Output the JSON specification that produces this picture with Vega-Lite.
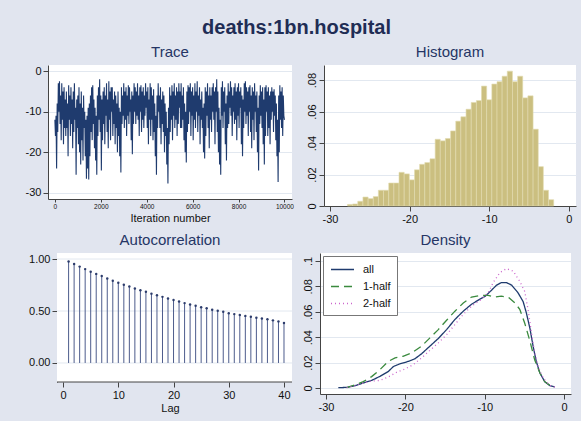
{
"$schema": "https://vega.github.io/schema/vega-lite/v6.json",
"background": "#e1e5ef",
"padding": {"left": 25, "top": 18, "right": 8, "bottom": 8},
"title": {"text": "deaths:1bn.hospital", "fontSize": 20, "fontWeight": "bold", "color": "#1f2d55", "anchor": "middle", "offset": 7, "dx": -4, "font": "Liberation Sans"},
"config": {
  "font": "Liberation Sans",
  "view": {"fill": "white", "stroke": null},
  "title": {"fontSize": 15, "fontWeight": "normal", "color": "#253565", "offset": 5, "font": "Liberation Sans"},
  "axis": {"grid": false, "domainColor": "#444", "tickColor": "#444", "labelColor": "#111", "labelFontSize": 11, "titleFontSize": 11, "titleFontWeight": "normal", "titleColor": "#111", "tickSize": 5, "labelPadding": 2, "gridColor": "#e2e8f0", "labelFont": "Liberation Sans", "titleFont": "Liberation Sans"}
},
"datasets": {
  "trace": [
{"i":0,"v":-12},{"i":25,"v":-16},{"i":50,"v":-11},{"i":75,"v":-24},{"i":100,"v":-8},{"i":125,"v":-15},{"i":150,"v":-3},{"i":175,"v":-10},{"i":200,"v":-2.5},{"i":225,"v":-13},{"i":250,"v":-6},{"i":275,"v":-17},{"i":300,"v":-3},{"i":325,"v":-12},{"i":350,"v":-5},{"i":375,"v":-18},{"i":400,"v":-4},{"i":425,"v":-14},{"i":450,"v":-7},{"i":475,"v":-16},
{"i":500,"v":-5},{"i":525,"v":-14},{"i":550,"v":-8},{"i":575,"v":-21},{"i":600,"v":-3.5},{"i":625,"v":-12},{"i":650,"v":-6},{"i":675,"v":-16},{"i":700,"v":-4},{"i":725,"v":-13},{"i":750,"v":-7},{"i":775,"v":-19},{"i":800,"v":-5},{"i":825,"v":-15},{"i":850,"v":-3},{"i":875,"v":-12},{"i":900,"v":-9},{"i":925,"v":-25.5},{"i":950,"v":-7},{"i":975,"v":-14},
{"i":1000,"v":-6},{"i":1025,"v":-18},{"i":1050,"v":-4},{"i":1075,"v":-20},{"i":1100,"v":-8},{"i":1125,"v":-23},{"i":1150,"v":-5},{"i":1175,"v":-17},{"i":1200,"v":-9},{"i":1225,"v":-22},{"i":1250,"v":-6},{"i":1275,"v":-14},{"i":1300,"v":-10},{"i":1325,"v":-21},{"i":1350,"v":-12},{"i":1375,"v":-26.5},{"i":1400,"v":-11},{"i":1425,"v":-24},{"i":1450,"v":-9},{"i":1475,"v":-26.7},
{"i":1500,"v":-8},{"i":1525,"v":-21},{"i":1550,"v":-6},{"i":1575,"v":-15},{"i":1600,"v":-4},{"i":1625,"v":-17},{"i":1650,"v":-3.5},{"i":1675,"v":-13},{"i":1700,"v":-7},{"i":1725,"v":-19},{"i":1750,"v":-9},{"i":1775,"v":-22},{"i":1800,"v":-11},{"i":1825,"v":-25.5},{"i":1850,"v":-6},{"i":1875,"v":-16},{"i":1900,"v":-4},{"i":1925,"v":-12},{"i":1950,"v":-2},{"i":1975,"v":-15},
{"i":2000,"v":-6},{"i":2025,"v":-24.5},{"i":2050,"v":-7},{"i":2075,"v":-17},{"i":2100,"v":-5},{"i":2125,"v":-13},{"i":2150,"v":-4},{"i":2175,"v":-18},{"i":2200,"v":-6},{"i":2225,"v":-11},{"i":2250,"v":-3},{"i":2275,"v":-15},{"i":2300,"v":-7},{"i":2325,"v":-19},{"i":2350,"v":-2.5},{"i":2375,"v":-12},{"i":2400,"v":-5},{"i":2425,"v":-17},{"i":2450,"v":-4},{"i":2475,"v":-10},
{"i":2500,"v":-4},{"i":2525,"v":-16},{"i":2550,"v":-7},{"i":2575,"v":-13},{"i":2600,"v":-5},{"i":2625,"v":-18},{"i":2650,"v":-6},{"i":2675,"v":-14},{"i":2700,"v":-8},{"i":2725,"v":-20},{"i":2750,"v":-5},{"i":2775,"v":-16},{"i":2800,"v":-9},{"i":2825,"v":-21},{"i":2850,"v":-10},{"i":2875,"v":-25},{"i":2900,"v":-4},{"i":2925,"v":-13},{"i":2950,"v":-6},{"i":2975,"v":-11},
{"i":3000,"v":-3},{"i":3025,"v":-14},{"i":3050,"v":-5},{"i":3075,"v":-12},{"i":3100,"v":-4},{"i":3125,"v":-16},{"i":3150,"v":-6},{"i":3175,"v":-11},{"i":3200,"v":-3.5},{"i":3225,"v":-13},{"i":3250,"v":-4},{"i":3275,"v":-10},{"i":3300,"v":-7},{"i":3325,"v":-17},{"i":3350,"v":-5},{"i":3375,"v":-20.5},{"i":3400,"v":-6},{"i":3425,"v":-13},{"i":3450,"v":-3},{"i":3475,"v":-10},
{"i":3500,"v":-4},{"i":3525,"v":-13},{"i":3550,"v":-5},{"i":3575,"v":-11},{"i":3600,"v":-3},{"i":3625,"v":-12},{"i":3650,"v":-6},{"i":3675,"v":-16},{"i":3700,"v":-4},{"i":3725,"v":-10},{"i":3750,"v":-3.5},{"i":3775,"v":-15},{"i":3800,"v":-5},{"i":3825,"v":-12},{"i":3850,"v":-4},{"i":3875,"v":-14},{"i":3900,"v":-6},{"i":3925,"v":-11},{"i":3950,"v":-3},{"i":3975,"v":-9},
{"i":4000,"v":-5},{"i":4025,"v":-14},{"i":4050,"v":-4},{"i":4075,"v":-18},{"i":4100,"v":-7},{"i":4125,"v":-12},{"i":4150,"v":-3},{"i":4175,"v":-16},{"i":4200,"v":-4},{"i":4225,"v":-12},{"i":4250,"v":-6},{"i":4275,"v":-17},{"i":4300,"v":-4.5},{"i":4325,"v":-15},{"i":4350,"v":-8},{"i":4375,"v":-21},{"i":4400,"v":-11},{"i":4425,"v":-25.5},{"i":4450,"v":-6},{"i":4475,"v":-14},
{"i":4500,"v":-3},{"i":4525,"v":-10},{"i":4550,"v":-6},{"i":4575,"v":-14},{"i":4600,"v":-4},{"i":4625,"v":-18},{"i":4650,"v":-7},{"i":4675,"v":-13},{"i":4700,"v":-5},{"i":4725,"v":-15},{"i":4750,"v":-6},{"i":4775,"v":-20},{"i":4800,"v":-8},{"i":4825,"v":-16},{"i":4850,"v":-10},{"i":4875,"v":-23},{"i":4900,"v":-14},{"i":4925,"v":-27.7},{"i":4950,"v":-9},{"i":4975,"v":-18},
{"i":5000,"v":-4},{"i":5025,"v":-15},{"i":5050,"v":-6},{"i":5075,"v":-12},{"i":5100,"v":-3.5},{"i":5125,"v":-17},{"i":5150,"v":-5},{"i":5175,"v":-11},{"i":5200,"v":-3},{"i":5225,"v":-14},{"i":5250,"v":-6},{"i":5275,"v":-12},{"i":5300,"v":-4},{"i":5325,"v":-16},{"i":5350,"v":-5},{"i":5375,"v":-13},{"i":5400,"v":-3},{"i":5425,"v":-9},{"i":5450,"v":-5},{"i":5475,"v":-14},
{"i":5500,"v":-3},{"i":5525,"v":-14},{"i":5550,"v":-6},{"i":5575,"v":-12},{"i":5600,"v":-4},{"i":5625,"v":-17},{"i":5650,"v":-8},{"i":5675,"v":-20},{"i":5700,"v":-10},{"i":5725,"v":-22.5},{"i":5750,"v":-5},{"i":5775,"v":-15},{"i":5800,"v":-3.5},{"i":5825,"v":-13},{"i":5850,"v":-4},{"i":5875,"v":-10},{"i":5900,"v":-3},{"i":5925,"v":-16},{"i":5950,"v":-5},{"i":5975,"v":-11},
{"i":6000,"v":-4},{"i":6025,"v":-17},{"i":6050,"v":-6},{"i":6075,"v":-12},{"i":6100,"v":-3},{"i":6125,"v":-14},{"i":6150,"v":-5},{"i":6175,"v":-10},{"i":6200,"v":-2.5},{"i":6225,"v":-15},{"i":6250,"v":-6},{"i":6275,"v":-11},{"i":6300,"v":-4},{"i":6325,"v":-18},{"i":6350,"v":-7},{"i":6375,"v":-12},{"i":6400,"v":-5},{"i":6425,"v":-14},{"i":6450,"v":-9},{"i":6475,"v":-20},
{"i":6500,"v":-8},{"i":6525,"v":-21.5},{"i":6550,"v":-4},{"i":6575,"v":-16},{"i":6600,"v":-5},{"i":6625,"v":-11},{"i":6650,"v":-3},{"i":6675,"v":-14},{"i":6700,"v":-6},{"i":6725,"v":-19},{"i":6750,"v":-4},{"i":6775,"v":-12},{"i":6800,"v":-6},{"i":6825,"v":-15},{"i":6850,"v":-4},{"i":6875,"v":-10},{"i":6900,"v":-3},{"i":6925,"v":-12},{"i":6950,"v":-5},{"i":6975,"v":-18},
{"i":7000,"v":-4},{"i":7025,"v":-10},{"i":7050,"v":-2},{"i":7075,"v":-15},{"i":7100,"v":-5},{"i":7125,"v":-20},{"i":7150,"v":-9},{"i":7175,"v":-23},{"i":7200,"v":-12},{"i":7225,"v":-25.5},{"i":7250,"v":-4},{"i":7275,"v":-11},{"i":7300,"v":-2.5},{"i":7325,"v":-14},{"i":7350,"v":-5},{"i":7375,"v":-10},{"i":7400,"v":-4},{"i":7425,"v":-18},{"i":7450,"v":-8},{"i":7475,"v":-22},
{"i":7500,"v":-6},{"i":7525,"v":-14},{"i":7550,"v":-3},{"i":7575,"v":-13},{"i":7600,"v":-5},{"i":7625,"v":-9},{"i":7650,"v":-2.5},{"i":7675,"v":-11},{"i":7700,"v":-4},{"i":7725,"v":-16},{"i":7750,"v":-6},{"i":7775,"v":-10},{"i":7800,"v":-4},{"i":7825,"v":-13},{"i":7850,"v":-3},{"i":7875,"v":-12},{"i":7900,"v":-5},{"i":7925,"v":-17},{"i":7950,"v":-4},{"i":7975,"v":-11},
{"i":8000,"v":-3},{"i":8025,"v":-14},{"i":8050,"v":-5},{"i":8075,"v":-9},{"i":8100,"v":-4},{"i":8125,"v":-18},{"i":8150,"v":-6},{"i":8175,"v":-21},{"i":8200,"v":-7},{"i":8225,"v":-14},{"i":8250,"v":-3},{"i":8275,"v":-10},{"i":8300,"v":-2.5},{"i":8325,"v":-13},{"i":8350,"v":-4},{"i":8375,"v":-11},{"i":8400,"v":-5},{"i":8425,"v":-16},{"i":8450,"v":-4},{"i":8475,"v":-10},
{"i":8500,"v":-3.5},{"i":8525,"v":-15},{"i":8550,"v":-6},{"i":8575,"v":-19},{"i":8600,"v":-4},{"i":8625,"v":-12},{"i":8650,"v":-5},{"i":8675,"v":-17},{"i":8700,"v":-3},{"i":8725,"v":-10},{"i":8750,"v":-6},{"i":8775,"v":-15},{"i":8800,"v":-5},{"i":8825,"v":-20},{"i":8850,"v":-9},{"i":8875,"v":-24.5},{"i":8900,"v":-6},{"i":8925,"v":-13},{"i":8950,"v":-3.5},{"i":8975,"v":-11},
{"i":9000,"v":-5},{"i":9025,"v":-14},{"i":9050,"v":-4},{"i":9075,"v":-18},{"i":9100,"v":-7},{"i":9125,"v":-23},{"i":9150,"v":-4},{"i":9175,"v":-16},{"i":9200,"v":-3.5},{"i":9225,"v":-10},{"i":9250,"v":-5},{"i":9275,"v":-16},{"i":9300,"v":-4},{"i":9325,"v":-14},{"i":9350,"v":-6},{"i":9375,"v":-18},{"i":9400,"v":-5},{"i":9425,"v":-12},{"i":9450,"v":-4},{"i":9475,"v":-10},
{"i":9500,"v":-5},{"i":9525,"v":-15},{"i":9550,"v":-4.5},{"i":9575,"v":-11},{"i":9600,"v":-6},{"i":9625,"v":-17},{"i":9650,"v":-8},{"i":9675,"v":-21},{"i":9700,"v":-12},{"i":9725,"v":-27.3},{"i":9750,"v":-6},{"i":9775,"v":-20},{"i":9800,"v":-3.5},{"i":9825,"v":-12},{"i":9850,"v":-5},{"i":9875,"v":-14},{"i":9900,"v":-4},{"i":9925,"v":-16},{"i":9950,"v":-6},{"i":9975,"v":-11},{"i":10000,"v":-12}
  ],
  "hist": [
{"a":-27.80,"b":-27.15,"d":0.001},{"a":-27.15,"b":-26.51,"d":0.0013},{"a":-26.51,"b":-25.86,"d":0.003},{"a":-25.86,"b":-25.21,"d":0.0057},{"a":-25.21,"b":-24.56,"d":0.0047},{"a":-24.56,"b":-23.92,"d":0.006},{"a":-23.92,"b":-23.27,"d":0.010},{"a":-23.27,"b":-22.62,"d":0.010},{"a":-22.62,"b":-21.97,"d":0.0146},{"a":-21.97,"b":-21.33,"d":0.0146},
{"a":-21.33,"b":-20.68,"d":0.0214},{"a":-20.68,"b":-20.03,"d":0.0204},{"a":-20.03,"b":-19.38,"d":0.0166},{"a":-19.38,"b":-18.74,"d":0.023},{"a":-18.74,"b":-18.09,"d":0.0265},{"a":-18.09,"b":-17.44,"d":0.0276},{"a":-17.44,"b":-16.79,"d":0.030},{"a":-16.79,"b":-16.15,"d":0.0424},{"a":-16.15,"b":-15.50,"d":0.0414},{"a":-15.50,"b":-14.85,"d":0.0429},
{"a":-14.85,"b":-14.20,"d":0.0477},{"a":-14.20,"b":-13.56,"d":0.0539},{"a":-13.56,"b":-12.91,"d":0.0567},{"a":-12.91,"b":-12.26,"d":0.0615},{"a":-12.26,"b":-11.61,"d":0.0658},{"a":-11.61,"b":-10.97,"d":0.067},{"a":-10.97,"b":-10.32,"d":0.0762},{"a":-10.32,"b":-9.67,"d":0.0675},{"a":-9.67,"b":-9.02,"d":0.0775},{"a":-9.02,"b":-8.38,"d":0.079},
{"a":-8.38,"b":-7.73,"d":0.0825},{"a":-7.73,"b":-7.08,"d":0.0857},{"a":-7.08,"b":-6.43,"d":0.079},{"a":-6.43,"b":-5.79,"d":0.0825},{"a":-5.79,"b":-5.14,"d":0.0687},{"a":-5.14,"b":-4.49,"d":0.070},{"a":-4.49,"b":-3.84,"d":0.0488},{"a":-3.84,"b":-3.20,"d":0.025},{"a":-3.20,"b":-2.55,"d":0.010},{"a":-2.55,"b":-1.90,"d":0.004}
  ],
  "acf": [
{"lag":1,"r":0.977},{"lag":2,"r":0.952},{"lag":3,"r":0.927},{"lag":4,"r":0.903},{"lag":5,"r":0.878},{"lag":6,"r":0.857},{"lag":7,"r":0.836},{"lag":8,"r":0.812},{"lag":9,"r":0.792},{"lag":10,"r":0.772},
{"lag":11,"r":0.752},{"lag":12,"r":0.735},{"lag":13,"r":0.716},{"lag":14,"r":0.700},{"lag":15,"r":0.685},{"lag":16,"r":0.667},{"lag":17,"r":0.651},{"lag":18,"r":0.636},{"lag":19,"r":0.621},{"lag":20,"r":0.606},
{"lag":21,"r":0.591},{"lag":22,"r":0.576},{"lag":23,"r":0.562},{"lag":24,"r":0.550},{"lag":25,"r":0.537},{"lag":26,"r":0.526},{"lag":27,"r":0.513},{"lag":28,"r":0.503},{"lag":29,"r":0.492},{"lag":30,"r":0.479},
{"lag":31,"r":0.470},{"lag":32,"r":0.461},{"lag":33,"r":0.453},{"lag":34,"r":0.445},{"lag":35,"r":0.436},{"lag":36,"r":0.428},{"lag":37,"r":0.420},{"lag":38,"r":0.410},{"lag":39,"r":0.400},{"lag":40,"r":0.385}
  ],
  "acfgrid": [{"g":0},{"g":0.5},{"g":1}],
  "acfframe": [{"x1":-1.1,"x2":41.45,"y1":-0.183,"y2":1.058}],
  "dens": [
{"s":"all","x":-28.45,"y":0.0003},{"s":"all","x":-27.4,"y":0.0005},{"s":"all","x":-26.35,"y":0.0018},{"s":"all","x":-25.3,"y":0.004},{"s":"all","x":-24.25,"y":0.006},{"s":"all","x":-23.2,"y":0.0092},{"s":"all","x":-22.15,"y":0.013},{"s":"all","x":-21.5,"y":0.017},{"s":"all","x":-20.7,"y":0.019},{"s":"all","x":-19.6,"y":0.021},{"s":"all","x":-18.8,"y":0.023},{"s":"all","x":-17.95,"y":0.027},{"s":"all","x":-16.9,"y":0.033},{"s":"all","x":-15.85,"y":0.039},{"s":"all","x":-14.8,"y":0.046},{"s":"all","x":-13.75,"y":0.054},{"s":"all","x":-12.7,"y":0.0605},{"s":"all","x":-11.65,"y":0.066},{"s":"all","x":-10.6,"y":0.070},{"s":"all","x":-9.98,"y":0.072},{"s":"all","x":-9.14,"y":0.077},{"s":"all","x":-8.5,"y":0.081},{"s":"all","x":-7.9,"y":0.083},{"s":"all","x":-7.25,"y":0.083},{"s":"all","x":-6.6,"y":0.081},{"s":"all","x":-5.8,"y":0.075},{"s":"all","x":-5.15,"y":0.068},{"s":"all","x":-4.74,"y":0.059},{"s":"all","x":-4.3,"y":0.047},{"s":"all","x":-3.9,"y":0.033},{"s":"all","x":-3.5,"y":0.021},{"s":"all","x":-3.05,"y":0.012},{"s":"all","x":-2.43,"y":0.005},{"s":"all","x":-1.8,"y":0.002},{"s":"all","x":-1.17,"y":0.0008},
{"s":"1-half","x":-27.4,"y":0.0003},{"s":"1-half","x":-26.35,"y":0.0024},{"s":"1-half","x":-25.3,"y":0.005},{"s":"1-half","x":-24.25,"y":0.009},{"s":"1-half","x":-23.2,"y":0.0145},{"s":"1-half","x":-22.15,"y":0.021},{"s":"1-half","x":-21.3,"y":0.0237},{"s":"1-half","x":-20.3,"y":0.025},{"s":"1-half","x":-19.2,"y":0.0276},{"s":"1-half","x":-17.95,"y":0.033},{"s":"1-half","x":-16.9,"y":0.0395},{"s":"1-half","x":-15.85,"y":0.046},{"s":"1-half","x":-14.8,"y":0.0534},{"s":"1-half","x":-13.75,"y":0.0605},{"s":"1-half","x":-12.7,"y":0.067},{"s":"1-half","x":-11.65,"y":0.0716},{"s":"1-half","x":-10.6,"y":0.0729},{"s":"1-half","x":-9.56,"y":0.0729},{"s":"1-half","x":-8.7,"y":0.0716},{"s":"1-half","x":-7.9,"y":0.0724},{"s":"1-half","x":-7.0,"y":0.0713},{"s":"1-half","x":-6.2,"y":0.067},{"s":"1-half","x":-5.58,"y":0.062},{"s":"1-half","x":-4.95,"y":0.051},{"s":"1-half","x":-4.3,"y":0.037},{"s":"1-half","x":-3.69,"y":0.022},{"s":"1-half","x":-3.05,"y":0.012},{"s":"1-half","x":-2.43,"y":0.005},{"s":"1-half","x":-1.6,"y":0.0013},
{"s":"2-half","x":-27.4,"y":0.0003},{"s":"2-half","x":-26.35,"y":0.0018},{"s":"2-half","x":-25.3,"y":0.004},{"s":"2-half","x":-24.25,"y":0.0055},{"s":"2-half","x":-23.2,"y":0.006},{"s":"2-half","x":-22.15,"y":0.0087},{"s":"2-half","x":-21.1,"y":0.0124},{"s":"2-half","x":-20.05,"y":0.015},{"s":"2-half","x":-19.0,"y":0.0184},{"s":"2-half","x":-17.95,"y":0.0237},{"s":"2-half","x":-16.9,"y":0.0297},{"s":"2-half","x":-15.85,"y":0.0355},{"s":"2-half","x":-14.8,"y":0.042},{"s":"2-half","x":-13.75,"y":0.050},{"s":"2-half","x":-12.7,"y":0.058},{"s":"2-half","x":-11.65,"y":0.0645},{"s":"2-half","x":-10.6,"y":0.069},{"s":"2-half","x":-9.56,"y":0.075},{"s":"2-half","x":-8.93,"y":0.083},{"s":"2-half","x":-8.1,"y":0.0908},{"s":"2-half","x":-7.25,"y":0.094},{"s":"2-half","x":-6.4,"y":0.092},{"s":"2-half","x":-5.58,"y":0.084},{"s":"2-half","x":-4.95,"y":0.076},{"s":"2-half","x":-4.5,"y":0.0605},{"s":"2-half","x":-4.1,"y":0.0434},{"s":"2-half","x":-3.69,"y":0.0276},{"s":"2-half","x":-3.27,"y":0.017},{"s":"2-half","x":-2.64,"y":0.008},{"s":"2-half","x":-1.8,"y":0.002},{"s":"2-half","x":-1.17,"y":0.0008}
  ]
},
"spacing": 9,
"resolve": {"legend": {"color": "independent", "strokeDash": "independent"}},
"vconcat": [
  {"hconcat": [
    {"title": "Trace", "width": 244, "height": 134, "data": {"name": "trace"},
     "mark": {"type": "line", "color": "#1f3b6e", "strokeWidth": 1.1},
     "encoding": {
       "x": {"field": "i", "type": "quantitative", "scale": {"domain": [-300, 10330], "nice": false, "zero": false},
             "axis": {"values": [0,2000,4000,6000,8000,10000], "format": "d", "labelFontSize": 6.5, "tickSize": 3, "labelPadding": 1, "title": "Iteration number", "titlePadding": 3}},
       "y": {"field": "v", "type": "quantitative", "scale": {"domain": [-31.5, 1.5], "nice": false, "zero": false},
             "axis": {"values": [0,-10,-20,-30], "title": null, "grid": true, "labelExpr": "datum.value == 0 ? '0' : '-' + format(-datum.value, 'd')"}}
     }},
    {"title": "Histogram", "width": 252, "height": 141, "data": {"name": "hist"},
     "mark": {"type": "rect", "fill": "#cbbf80", "stroke": "#e2dbb0", "strokeWidth": 0.6},
     "encoding": {
       "x": {"field": "a", "type": "quantitative", "scale": {"domain": [-30.75, 0.9], "nice": false, "zero": false},
             "axis": {"values": [-30,-20,-10,0], "title": null, "labelExpr": "datum.value == 0 ? '0' : '-' + format(-datum.value, 'd')"}},
       "x2": {"field": "b"},
       "y": {"field": "d", "type": "quantitative", "scale": {"domain": [0, 0.0896], "nice": false},
             "axis": {"values": [0,0.02,0.04,0.06,0.08], "title": null, "grid": true, "labelAngle": -90, "labelAlign": "center", "labelBaseline": "bottom",
                      "labelExpr": "datum.value == 0 ? '0' : replace(format(datum.value, '.2~f'), '0.', '.')"}},
       "y2": {"datum": 0}
     }}
  ], "spacing": 12},
  {"hconcat": [
    {"title": "Autocorrelation", "width": 244, "height": 129, "view": {"fill": null, "stroke": null},
     "layer": [
       {"data": {"name": "acfframe"}, "mark": {"type": "rect", "fill": "white"},
        "encoding": {
          "x": {"field": "x1", "type": "quantitative", "scale": {"domain": [-2.73, 41.45], "nice": false, "zero": false},
                "axis": {"values": [0,10,20,30,40], "title": "Lag", "titlePadding": 2, "domain": false}},
          "x2": {"field": "x2"},
          "y": {"field": "y1", "type": "quantitative", "scale": {"domain": [-0.183, 1.058], "nice": false, "zero": false},
                "axis": {"values": [0,0.5,1], "format": ".2f", "title": null, "grid": false, "offset": -9}},
          "y2": {"field": "y2"}
        }},
       {"data": {"name": "acfgrid"}, "mark": {"type": "rule", "color": "#e2e8f0", "strokeWidth": 1},
        "encoding": {"x": {"datum": -1.1}, "x2": {"datum": 41.45}, "y": {"field": "g", "type": "quantitative"}}},
       {"data": {"name": "acfframe"}, "mark": {"type": "rule", "color": "#444", "strokeWidth": 1},
        "encoding": {"x": {"field": "x1", "type": "quantitative"}, "x2": {"field": "x2"}, "y": {"field": "y1", "type": "quantitative"}}},
       {"data": {"name": "acf"}, "mark": {"type": "rule", "color": "#4d5c8c", "strokeWidth": 1},
        "encoding": {"x": {"field": "lag", "type": "quantitative"}, "y": {"field": "r", "type": "quantitative"}, "y2": {"datum": 0}}},
       {"data": {"name": "acf"}, "mark": {"type": "circle", "color": "#2c3c6c", "size": 6, "opacity": 1},
        "encoding": {"x": {"field": "lag", "type": "quantitative"}, "y": {"field": "r", "type": "quantitative"}}}
     ]},
    {"title": "Density", "width": 251, "height": 141, "data": {"name": "dens"},
     "mark": {"type": "line", "strokeWidth": 1.3},
     "encoding": {
       "x": {"field": "x", "type": "quantitative", "scale": {"domain": [-30.76, 0.88], "nice": false, "zero": false},
             "axis": {"values": [-30,-20,-10,0], "title": null, "labelExpr": "datum.value == 0 ? '0' : '-' + format(-datum.value, 'd')"}},
       "y": {"field": "y", "type": "quantitative", "scale": {"domain": [-0.0047, 0.1063], "nice": false, "zero": false},
             "axis": {"values": [0,0.02,0.04,0.06,0.08,0.1], "title": null, "grid": true, "labelAngle": -90, "labelAlign": "center", "labelBaseline": "bottom",
                      "labelExpr": "datum.value == 0 ? '0' : replace(format(datum.value, '.2~f'), '0.', '.')"}},
       "color": {"field": "s", "type": "nominal", "scale": {"domain": ["all","1-half","2-half"], "range": ["#1f3b6e","#3a8a3e","#cc66cc"]},
                 "legend": {"title": null, "orient": "top-left", "offset": 3, "fillColor": "white", "strokeColor": "#777", "padding": 6, "symbolType": "M-1.77,0H1.77", "symbolSize": 169, "symbolOffset": 6, "symbolStrokeWidth": 1.4, "labelFontSize": 11, "labelColor": "#111", "labelOffset": 13, "rowPadding": 4}},
       "strokeDash": {"field": "s", "type": "nominal", "scale": {"domain": ["all","1-half","2-half"], "range": [[1,0],[8,5],[1,3]]},
                 "legend": {"title": null, "orient": "top-left", "offset": 3, "fillColor": "white", "strokeColor": "#777", "padding": 6, "symbolType": "M-1.77,0H1.77", "symbolSize": 169, "symbolOffset": 6, "symbolStrokeWidth": 1.4, "labelFontSize": 11, "labelColor": "#111", "labelOffset": 13, "rowPadding": 4}}
     }}
  ], "spacing": 8, "resolve": {"legend": {"color": "independent", "strokeDash": "independent"}}}
]
}
